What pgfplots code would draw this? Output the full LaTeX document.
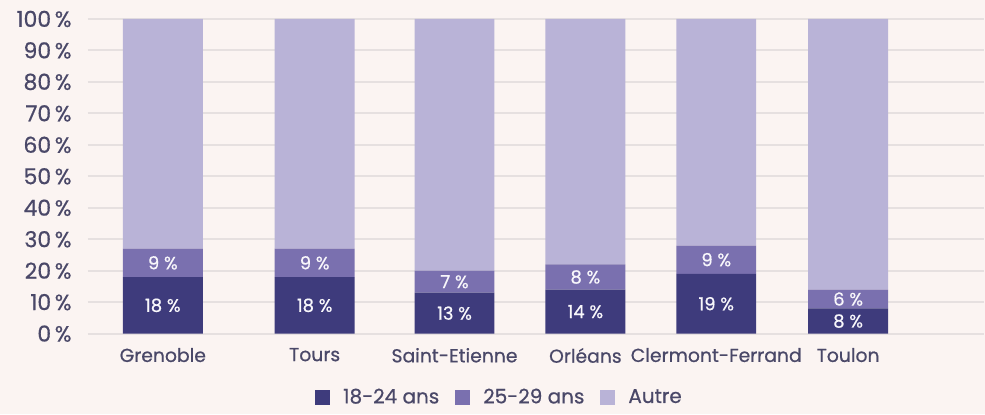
\documentclass[border=0pt]{standalone}
\usepackage{pgfplots}
\pgfplotsset{compat=1.18}
\usepackage{fontspec}
\setmainfont{Poppins}[FakeBold=0.6]
\usetikzlibrary{backgrounds}

\definecolor{bg}{HTML}{FBF4F2}
\definecolor{gridc}{HTML}{E6E0E0}
\definecolor{txt}{HTML}{4A4868}
\definecolor{dark}{HTML}{3E3B7C}
\definecolor{mid}{HTML}{7A70AF}
\definecolor{light}{HTML}{B9B3D7}

% shared geometry: 1 px of the reference = 0.5 pt
\pgfplotsset{
  frame/.style={
    scale only axis, width=448.5pt, height=157.5pt,
    xmin=88, xmax=985, ymin=0, ymax=100,
  },
}

\begin{document}
\begin{tikzpicture}[font=\fontsize{10}{12}\selectfont, text=txt,
    show background rectangle,
    background rectangle/.style={fill=bg, draw=none},
    inner frame sep=0pt]
  \begin{axis}[
      frame,
      ybar stacked, bar width=80,
      axis line style={draw=none},
      tick style={draw=none},
      ymajorgrids, grid style={gridc, line width=1pt},
      ytick={0,10,...,100},
      yticklabels={0\,\%,10\,\%,20\,\%,30\,\%,40\,\%,50\,\%,60\,\%,70\,\%,80\,\%,90\,\%,100\,\%},
      yticklabel style={anchor=east, inner sep=0pt, xshift=-8pt, text=txt,
                        font=\fontsize{11}{12}\selectfont},
      xtick={163,315,455,586,717,849},
      xticklabels={Grenoble,Tours,Saint-Etienne,Orléans,Clermont-Ferrand,Toulon},
      xticklabel style={anchor=north, inner sep=0pt, yshift=-7pt, text=txt,
                        font=\fontsize{9.4}{11}\selectfont},
      legend columns=3,
      legend style={at={(rel axis cs:0.4604,-0.203)}, anchor=center,
                    draw=none, fill=none, text=txt,
                    /tikz/every even column/.append style={column sep=6pt}},
      legend image code/.code={
        \path[draw=none, fill=none] (0pt,-3.6pt) rectangle (12pt,3.6pt);
        \fill[#1] (0pt,-3.6pt) rectangle (7.2pt,3.6pt);},
    ]
    \addplot[fill=dark, draw=none] coordinates {
      (163,18) (315,18) (455,13) (586,14) (717,19) (849,8)};
    \addplot[fill=mid, draw=none] coordinates {
      (163,9) (315,9) (455,7) (586,8) (717,9) (849,6)};
    \addplot[fill=light, draw=none] coordinates {
      (163,73) (315,73) (455,80) (586,78) (717,72) (849,86)};
    \legend{18-24 ans, 25-29 ans, Autre}
  \end{axis}
  % segment labels, placed at the middle of each segment
  \begin{axis}[frame, hide axis, clip=false]
    \addplot[draw=none, nodes near coords, point meta=explicit symbolic,
             every node near coord/.append style={anchor=center,
               font=\fontsize{9}{11}\selectfont, text=white!90!light}]
      coordinates {
      (163,9)[18 \%] (315,9)[18 \%] (455,6.5)[13 \%] (586,7)[14 \%]
      (717,9.5)[19 \%] (849,4)[8 \%]
      (163,22.5)[9 \%] (315,22.5)[9 \%] (455,16.5)[7 \%] (586,18)[8 \%]
      (717,23.5)[9 \%] (849,11)[6 \%]};
    % fix the picture's extent to the reference's frame
    \path (rel axis cs:-0.0981,-0.2413) rectangle (rel axis cs:1,1.0603);
  \end{axis}
\end{tikzpicture}
\end{document}
